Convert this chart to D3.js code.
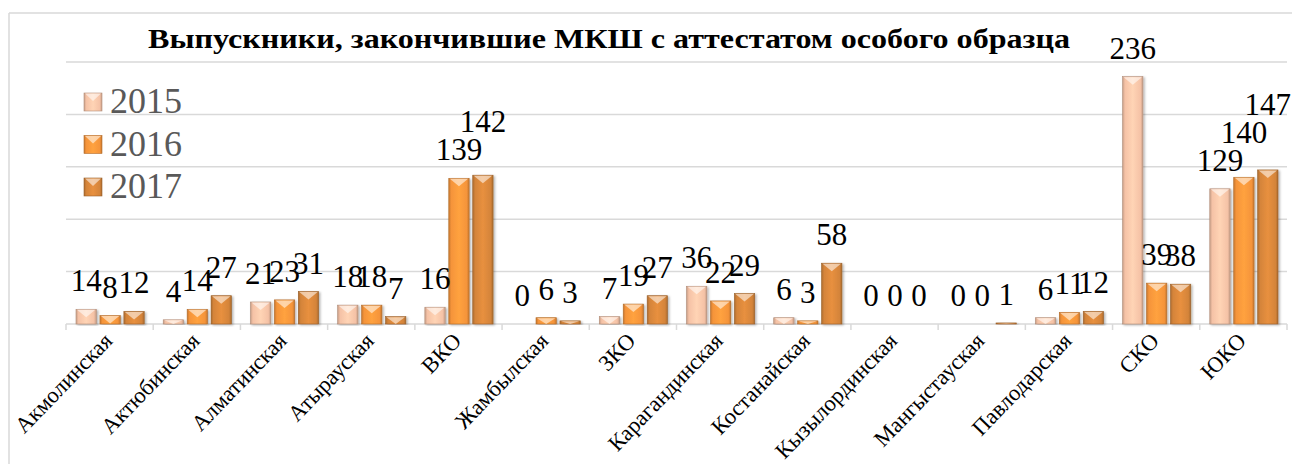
<!DOCTYPE html>
<html>
<head>
<meta charset="utf-8">
<script src="https://cdn.jsdelivr.net/npm/d3@7"></script>
<style>
  body { margin: 0; background: #fff; }
  svg { display: block; }
</style>
</head>
<body>
<svg id="chart" width="1292" height="464"></svg>
<script>
const title = "Выпускники, закончившие МКШ с аттестатом особого образца";
const categories = ["Акмолинская", "Актюбинская", "Алматинская", "Атырауская", "ВКО", "Жамбылская", "ЗКО",
  "Карагандинская", "Костанайская", "Кызылординская", "Мангыстауская", "Павлодарская", "СКО", "ЮКО"];
const years = ["2015", "2016", "2017"];
const v2015 = [14, 4, 21, 18, 16, 0, 7, 36, 6, 0, 0, 6, 236, 129];
const v2016 = [8, 14, 23, 18, 139, 6, 19, 22, 3, 0, 0, 11, 39, 140];
const v2017 = [12, 27, 31, 7, 142, 3, 27, 29, 58, 0, 1, 12, 38, 147];
const yTicks = [0, 50, 100, 150, 200, 250];

const seriesVals = [v2015, v2016, v2017];
const colors = ["#f5c2a6", "#f5943a", "#d4843a"];
const serif = "'Liberation Serif', 'Times New Roman', serif";

let svg = d3.select("#chart");
let width = +svg.attr("width");

// frame (only top and left edges show)
svg.append("line").attr("x1", 9).attr("y1", 13).attr("x2", width).attr("y2", 13)
  .attr("stroke", "#d9d9d9").attr("stroke-width", 1.5);
svg.append("line").attr("x1", 9).attr("y1", 13).attr("x2", 9).attr("y2", 464)
  .attr("stroke", "#d9d9d9").attr("stroke-width", 1.5);

let x0 = d3.scaleBand().domain(categories).range([66, 1287]).padding(0);
let x1 = d3.scaleBand().domain(years).range([10, x0.bandwidth() - 9]).paddingInner(0.15);
let y = d3.scaleLinear().domain([0, 250]).range([324, 62]);

// gradients for the bevelled bars
let defs = svg.append("defs");
colors.forEach((c, i) => {
  let g = defs.append("linearGradient").attr("id", "grad" + i)
    .attr("x1", "0%").attr("x2", "100%").attr("y1", "0%").attr("y2", "0%");
  let dark = d3.color(c).darker(0.6);
  let light = d3.color(c).brighter(0.25);
  g.append("stop").attr("offset", "0%").attr("stop-color", dark);
  g.append("stop").attr("offset", "12%").attr("stop-color", c);
  g.append("stop").attr("offset", "50%").attr("stop-color", light);
  g.append("stop").attr("offset", "88%").attr("stop-color", c);
  g.append("stop").attr("offset", "100%").attr("stop-color", dark);
});
let shadow = defs.append("filter").attr("id", "shadow").attr("x", "-20%").attr("y", "-5%")
  .attr("width", "150%").attr("height", "115%");
shadow.append("feDropShadow").attr("dx", 1.5).attr("dy", 1).attr("stdDeviation", 1.2)
  .attr("flood-color", "#000").attr("flood-opacity", 0.3);

// gridlines
svg.append("g").selectAll("line").data(yTicks).join("line")
  .attr("x1", 66).attr("x2", 1287)
  .attr("y1", d => y(d)).attr("y2", d => y(d))
  .attr("stroke", "#d9d9d9").attr("stroke-width", 1.5);

// category ticks on the baseline
svg.append("g").selectAll("line").data(d3.range(categories.length + 1)).join("line")
  .attr("x1", i => 66 + i * x0.step()).attr("x2", i => 66 + i * x0.step())
  .attr("y1", y(0)).attr("y2", y(0) + 6)
  .attr("stroke", "#d9d9d9").attr("stroke-width", 1.5);

// bars
let bars = [];
categories.forEach((cat, ci) => {
  years.forEach((yr, si) => {
    bars.push({cat, ci, si, yr, v: seriesVals[si][ci]});
  });
});

let barG = svg.append("g");
bars.forEach(d => {
  let bx = x0(d.cat) + x1(d.yr);
  let bw = x1.bandwidth();
  let top = y(d.v);
  let h = y(0) - top;
  if (h <= 0) return;
  let g = barG.append("g").attr("filter", "url(#shadow)");
  g.append("rect").attr("x", bx).attr("y", top).attr("width", bw).attr("height", h)
    .attr("fill", "url(#grad" + d.si + ")")
    .attr("stroke", d3.color(colors[d.si]).darker(0.9)).attr("stroke-width", 0.6);
  let th = Math.min(8, h);
  g.append("path")
    .attr("d", `M${bx + 1},${top + 0.5} L${bx + bw - 1},${top + 0.5} L${bx + bw / 2},${top + th} Z`)
    .attr("fill", "#fff").attr("opacity", 0.55);
});

// data labels, nudged up when long labels collide
let labelG = svg.append("g")
  .attr("font-family", serif)
  .attr("font-size", 31).attr("fill", "#000").attr("text-anchor", "middle");
categories.forEach((cat, ci) => {
  let prev = null;
  years.forEach((yr, si) => {
    let v = seriesVals[si][ci];
    let cx = x0(cat) + x1(yr) + x1.bandwidth() / 2;
    let base = y(v) - 18;
    let txt = String(v);
    if (prev && txt.length >= 3 && prev.txt.length >= 3 && base > prev.base - 28) {
      base = prev.base - 28;
    }
    labelG.append("text").attr("x", cx).attr("y", base).text(txt);
    prev = {txt, base};
  });
});

// category labels
svg.append("g").selectAll("text").data(categories).join("text")
  .attr("transform", d => `translate(${x0(d) + x0.bandwidth() / 2 + 4},${y(0) + 18}) rotate(-46)`)
  .attr("text-anchor", "end")
  .attr("font-family", serif)
  .attr("font-size", 22.5).attr("fill", "#000")
  .text(d => d);

// title
svg.append("text").attr("x", 609).attr("y", 48)
  .attr("text-anchor", "middle")
  .attr("font-family", serif)
  .attr("font-weight", "bold").attr("font-size", 27)
  .attr("textLength", 922).attr("lengthAdjust", "spacingAndGlyphs")
  .text(title);

// legend
let legend = svg.append("g");
years.forEach((yr, i) => {
  let ly = 113 + i * 42.5;
  legend.append("rect").attr("x", 84).attr("y", ly - 20).attr("width", 18).attr("height", 18)
    .attr("fill", "url(#grad" + i + ")")
    .attr("stroke", d3.color(colors[i]).darker(0.9)).attr("stroke-width", 0.6);
  legend.append("path")
    .attr("d", `M${85},${ly - 19.5} L${101},${ly - 19.5} L${93},${ly - 12} Z`)
    .attr("fill", "#fff").attr("opacity", 0.55);
  legend.append("text").attr("x", 110).attr("y", ly)
    .attr("font-family", serif)
    .attr("font-size", 36).attr("fill", "#595959")
    .text(yr);
});
</script>
</body>
</html>
